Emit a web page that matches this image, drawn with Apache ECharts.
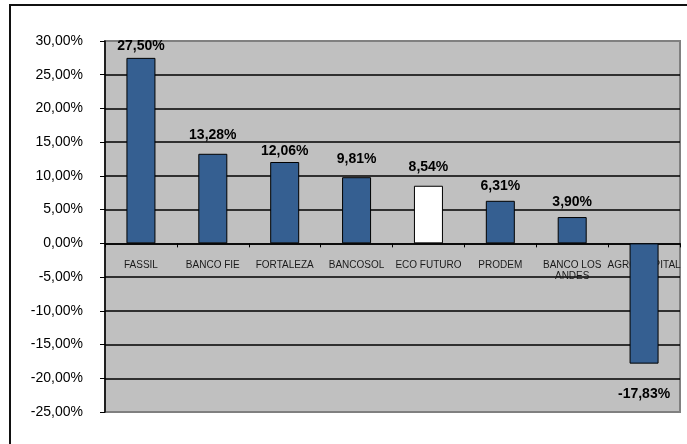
<!DOCTYPE html>
<html>
<head>
<meta charset="utf-8">
<script src="https://cdn.jsdelivr.net/npm/echarts@6/dist/echarts.min.js"></script>
<style>
html,body{margin:0;padding:0;background:#fff;}
#c{width:687px;height:444px;}
</style>
</head>
<body>
<div id="c"></div>
<script>
var categories = ['FASSIL', 'BANCO FIE', 'FORTALEZA', 'BANCOSOL', 'ECO FUTURO', 'PRODEM', 'BANCO LOS\nANDES', 'AGRO CAPITAL'];
var values = [27.50, 13.28, 12.06, 9.81, 8.54, 6.31, 3.90, -17.83];
var yTicks = { min: -25, max: 30, step: 5 };

var FONT = 'Arial, "Liberation Sans", sans-serif';
var fmt = function (v) { return v.toFixed(2).replace('.', ',') + '%'; };
var labelDist = [5, 12, 4, 11, 12, 8, 8, 24];

var GRID_TOP = 41, GRID_BOTTOM = 32, H = 444;
var plotH = H - GRID_TOP - GRID_BOTTOM;
var zeroFromBottom = plotH * (0 - yTicks.min) / (yTicks.max - yTicks.min);

var data = values.map(function (v, i) {
  return {
    value: v,
    itemStyle: { color: categories[i] === 'ECO FUTURO' ? '#ffffff' : '#355F91' },
    label: { position: v < 0 ? 'bottom' : 'top', distance: labelDist[i] }
  };
});

var chart = echarts.init(document.getElementById('c'), null, { renderer: 'canvas' });
chart.setOption({
  animation: false,
  backgroundColor: '#ffffff',
  textStyle: { fontFamily: FONT },
  graphic: [{
    type: 'rect', z: 100, silent: true,
    shape: { x: 10, y: 5, width: 700, height: 460 },
    style: { fill: 'none', stroke: '#111', lineWidth: 2 }
  }],
  grid: {
    left: 105, right: 7, top: GRID_TOP, bottom: GRID_BOTTOM,
    show: true, backgroundColor: '#C0C0C0', borderColor: '#808080', borderWidth: 2
  },
  xAxis: {
    type: 'category',
    data: categories,
    position: 'bottom',
    offset: -zeroFromBottom,
    axisLine: { onZero: false, lineStyle: { color: '#000', width: 1.5 } },
    axisTick: { show: true, length: 4, inside: false, lineStyle: { color: '#000' } },
    axisLabel: { fontSize: 10, color: '#1a1a1a', margin: 16, lineHeight: 11, interval: 0, fontFamily: FONT },
    splitLine: { show: false }
  },
  yAxis: {
    type: 'value',
    min: yTicks.min, max: yTicks.max, interval: yTicks.step,
    axisLine: { show: true, lineStyle: { color: '#000', width: 1.5 } },
    axisTick: { show: true, length: 5, lineStyle: { color: '#000' } },
    axisLabel: { fontSize: 14, color: '#000', margin: 22, formatter: fmt, fontFamily: FONT },
    splitLine: { show: true, showMinLine: false, showMaxLine: false, lineStyle: { color: '#000', width: 1.5 } }
  },
  series: [{
    type: 'bar',
    data: data,
    barWidth: 29,
    z: 5,
    itemStyle: { borderColor: '#000', borderWidth: 1 },
    label: {
      show: true,
      fontSize: 14, fontWeight: 'bold', color: '#000', fontFamily: FONT,
      formatter: function (p) { return fmt(p.value); }
    }
  }]
});
</script>
</body>
</html>
